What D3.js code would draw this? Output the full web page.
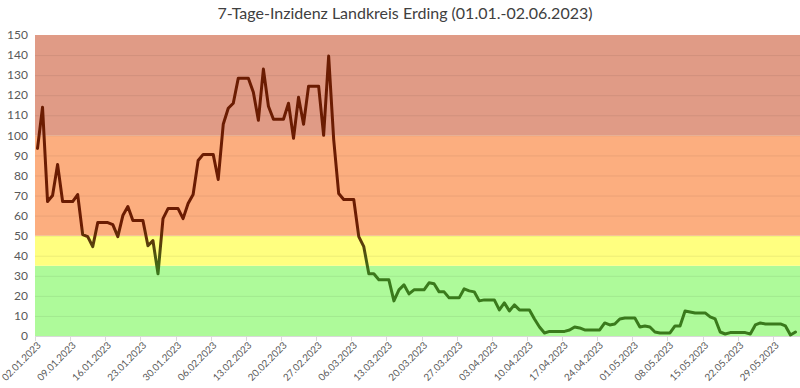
<!DOCTYPE html>
<html><head><meta charset="utf-8">
<script src="https://cdn.jsdelivr.net/npm/d3@7"></script>
<style>html,body{margin:0;padding:0;background:#fff;}svg{display:block;}</style>
</head><body>
<svg id="chart" width="800" height="388"></svg>
<script>
const title = "7-Tage-Inzidenz Landkreis Erding (01.01.-02.06.2023)";
const startDate = "2023-01-02";
const values = [
 93.5,114,67,70,85.5,67,67,67,70.5,50.5,49.5,44.5,56.5,56.5,56.5,55.5,49.5,60,64.5,57.5,
 57.5,57.5,45,47.5,31,58.5,63.5,63.5,63.5,58.5,66,70.5,87.5,90.5,90.5,90.5,78,105.5,113.5,116,
 128.5,128.5,128.5,121.5,107.5,133,114.5,108,108,108,116,98.5,119,105.5,124.5,124.5,124.5,100,139.5,98,
 71,68,68,68,49.5,44.5,31,31,28,28,28,17.5,23,25.5,21,23,23,23,26.5,26,
 22,22,19,19,19,23.5,22.5,22,17.5,18,18,18,13,16.5,12.5,15.5,13,13,13,8.5,
 4.5,1.5,2.3,2.3,2.3,2.3,3,4.5,4,3,3,3,3,6.5,5.5,6,8.5,9,9,9,
 4.5,5,4.5,2,1.5,1.5,1.5,5,5,12.5,12,11.5,11.5,11.5,9.5,8.5,2,1,1.7,1.7,
 1.7,1.7,1,5.5,6.5,6,6,6,6,5,0.5,2
];
const yTicks = [0,10,20,30,40,50,60,70,80,90,100,110,120,130,140,150];
const bands = [
  {from:0, to:35, color:"#aefa9a"},
  {from:35, to:50, color:"#ffff80"},
  {from:50, to:100, color:"#fcae7f"},
  {from:100, to:150, color:"#e09b86"}
];

const fmt = d3.timeFormat("%d.%m.%Y");
const parse = d3.timeParse("%Y-%m-%d");
const d0 = parse(startDate);
const dates = values.map((v,i) => d3.timeDay.offset(d0, i));
const data = values.map((v,i) => ({date: dates[i], value: v}));

const svg = d3.select("#chart");
const mLeft = 35, mRight = 798, mTop = 35, mBottom = 336, bandRight = 800;

const x = d3.scaleBand().domain(dates.map(fmt)).range([mLeft, mRight]).padding(0);
const y = d3.scaleLinear().domain([0,150]).range([mBottom, mTop]);
const cx = d => x(fmt(d)) + x.bandwidth()/2;

// bands
svg.append("g").selectAll("rect").data(bands).join("rect")
  .attr("x", mLeft).attr("width", bandRight - mLeft)
  .attr("y", d => y(d.to)).attr("height", d => y(d.from) - y(d.to))
  .attr("fill", d => d.color);

// gridlines
svg.append("g").selectAll("line").data(yTicks.filter(t => t>0 && t<150)).join("line")
  .attr("x1", mLeft).attr("x2", bandRight)
  .attr("y1", d => y(d)+0.5).attr("y2", d => y(d)+0.5)
  .attr("stroke", "#000").attr("stroke-opacity", 0.07).attr("stroke-width", 1);

// y axis labels
svg.append("g").selectAll("text").data(yTicks).join("text")
  .attr("x", 28).attr("y", d => y(d)).attr("dy", "0.35em")
  .attr("text-anchor", "end")
  .attr("font-family", "Lato, 'Open Sans', sans-serif").attr("font-size", 12)
  .attr("fill", "#595959").text(d => d);

// x axis
const tickIdx = dates.map((d,i)=>i).filter(i => i % 7 === 0);
const xa = svg.append("g");
xa.append("line").attr("x1", mLeft).attr("x2", bandRight).attr("y1", mBottom+0.5).attr("y2", mBottom+0.5)
  .attr("stroke", "#d9d9d9");
xa.selectAll("line.tick").data(tickIdx).join("line").attr("class","tick")
  .attr("x1", i => Math.round(x(fmt(dates[i])))+0.5).attr("x2", i => Math.round(x(fmt(dates[i])))+0.5)
  .attr("y1", mBottom).attr("y2", mBottom+5).attr("stroke", "#d9d9d9");
xa.selectAll("text").data(tickIdx).join("text")
  .attr("transform", i => `translate(${cx(dates[i])+4},${mBottom+10}) rotate(-45)`)
  .attr("text-anchor", "end")
  .attr("font-family", "Lato, 'Open Sans', sans-serif").attr("font-size", 9.8)
  .attr("fill", "#595959").text(i => fmt(dates[i]));

// line gradient
const defs = svg.append("defs");
const grad = defs.append("linearGradient").attr("id","lg")
  .attr("gradientUnits","userSpaceOnUse")
  .attr("x1",0).attr("x2",0).attr("y1",y(150)).attr("y2",y(0));
const gTop = (150-55)/150, gBot = (150-30)/150;
grad.append("stop").attr("offset", 0).attr("stop-color", "#6b1c02");
grad.append("stop").attr("offset", gTop).attr("stop-color", "#6b1c02");
grad.append("stop").attr("offset", gBot).attr("stop-color", "#3a7a1c");
grad.append("stop").attr("offset", 1).attr("stop-color", "#3a7a1c");

svg.append("path").datum(data)
  .attr("fill","none").attr("stroke","url(#lg)").attr("stroke-width",3)
  .attr("stroke-linejoin","round").attr("stroke-linecap","round")
  .attr("d", d3.line().x(d => cx(d.date)).y(d => y(d.value)));

// title
svg.append("text").attr("x", 405).attr("y", 19).attr("text-anchor","middle")
  .attr("font-family", "Lato, 'Open Sans', sans-serif").attr("font-size", 16)
  .attr("fill", "#404040").text(title);
</script>
</body></html>
